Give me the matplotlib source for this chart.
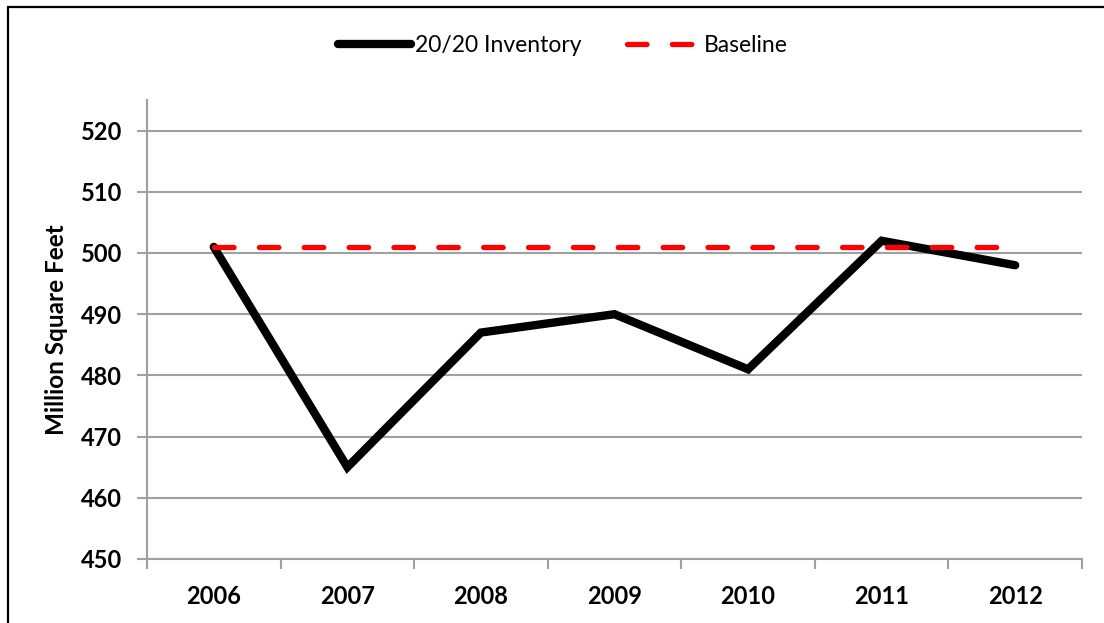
import matplotlib.pyplot as plt
import numpy as np
from matplotlib.patches import Rectangle

years = ["2006", "2007", "2008", "2009", "2010", "2011", "2012"]
inventory = [501, 465, 487, 490, 481, 502, 498]
baseline = [501, 501, 501, 501, 501, 501, 501]
y_ticks = [450, 460, 470, 480, 490, 500, 510, 520]

plt.rcParams["font.family"] = ["Lato", "DejaVu Sans"]

GRID = "#a0a0a0"

fig = plt.figure(figsize=(11.04, 6.23), dpi=100)
ax = fig.add_axes([147 / 1104, 1 - 559 / 623, (1082 - 147) / 1104, (559 - 100) / 623])

x = np.arange(len(years))
ax.plot(x, inventory, color="black", lw=6, solid_capstyle="round",
        solid_joinstyle="miter", label="20/20 Inventory", zorder=3)
ax.plot(x, baseline, color="#ff0000", lw=3.8, dashes=(3.7, 4.8),
        dash_capstyle="round", label="Baseline", zorder=4)

ax.set_xlim(-0.5, len(years) - 0.5)
ax.set_ylim(450, 525)
ax.set_yticks(y_ticks)
ax.set_yticklabels([str(v) for v in y_ticks], fontsize=17, fontweight="bold")
ax.set_xticks(x)
ax.set_xticklabels(years, fontsize=17, fontweight="bold")
ax.set_xticks(np.arange(-0.5, len(years), 1), minor=True)
ax.tick_params(axis="x", which="major", length=0, pad=19)
ax.tick_params(axis="x", which="minor", length=7, width=1.5, color=GRID)
ax.tick_params(axis="y", length=7, width=1.5, color=GRID, pad=11)

ax.grid(axis="y", color=GRID, lw=1.5)
ax.set_axisbelow(True)
for side in ("top", "right"):
    ax.spines[side].set_visible(False)
for side in ("left", "bottom"):
    ax.spines[side].set_color(GRID)
    ax.spines[side].set_linewidth(1.5)

ax.set_ylabel("Million Square Feet", fontsize=17.5, fontweight="bold")
ax.yaxis.set_label_coords(-0.0845, 0.5)

fig.legend(loc="center", bbox_to_anchor=(563 / 1104, 1 - 46 / 623), ncol=2,
           frameon=False, fontsize=16.5, handlelength=3.2, handletextpad=0.15,
           columnspacing=2.0)

fig.patches.append(Rectangle((8 / 1104, -0.1), 1.2, 1.1 - 7 / 623,
                             transform=fig.transFigure, fill=False,
                             edgecolor="black", lw=1.6))

fig.savefig("out.png", dpi=100)
